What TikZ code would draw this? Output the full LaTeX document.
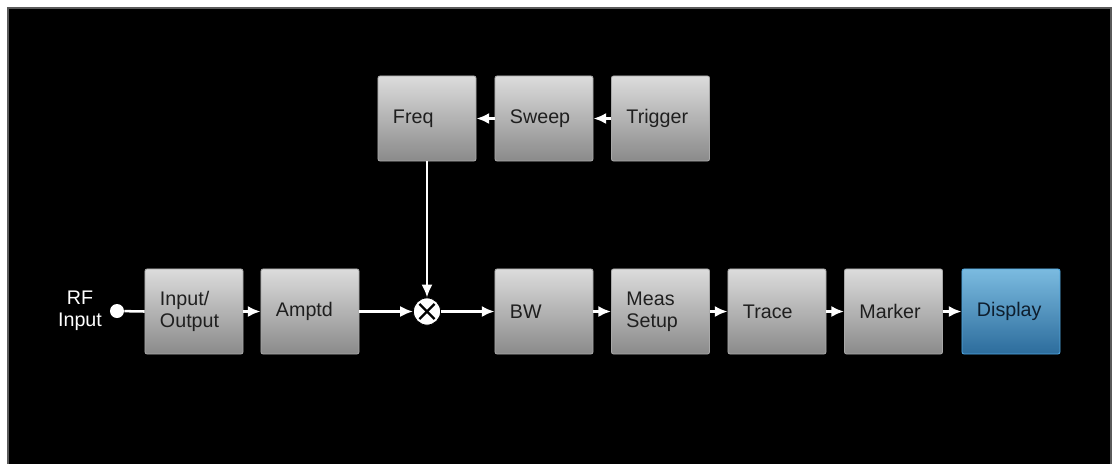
\documentclass[tikz,border=0pt]{standalone}
\usepackage{fontspec}
\setmainfont{Liberation Sans}
\usepackage{tikz}
\usetikzlibrary{calc}
\usetikzlibrary{arrows.meta}
\tikzset{>={Latex[length=3.2mm,width=2.8mm]}}
\usepackage{xcolor}
\definecolor{boxtop}{HTML}{DCDCDC}
\definecolor{boxbottom}{HTML}{8A8A8A}
\definecolor{boxline}{HTML}{A8A8A8}
\definecolor{disptop}{HTML}{7BBBE0}
\definecolor{dispbottom}{HTML}{2C6C9C}
\definecolor{displine}{HTML}{4FA8E2}
\definecolor{frameline}{HTML}{5A5A5A}
\tikzstyle{block}=[rounded corners=1.5pt,draw=boxline,line width=0.6pt,top color=boxtop,bottom color=boxbottom,minimum width=2.45cm,minimum height=2.125cm,text width=1.7cm,inner xsep=0.375cm,inner ysep=0pt,align=left,text=black!88,font=\fontsize{14}{15.6}\selectfont]
\tikzstyle{dispblock}=[block,draw=displine,top color=disptop,bottom color=dispbottom,text={rgb,255:red,14;green,30;blue,46}]
\tikzstyle{link}=[white,line width=1.8pt,->]

\begin{document}
\begin{tikzpicture}[x=0.025cm,y=-0.025cm]
\useasboundingbox (0,0) rectangle (1114,463);
\fill[white] (0,0) rectangle (1114,463);
\filldraw[fill=black,draw=frameline,line width=1.2pt] (8,8) rectangle (1111,480);

% ylarivi
\node[block] (freq) at (427,118.5) {Freq};
\node[block] (sweep) at (544,118.5) {Sweep};
\node[block] (trigger) at (660.5,118.5) {Trigger};

% alarivi
\node[white,align=center,font=\fontsize{14}{15.6}\selectfont] (rflabel) at (80,311) {RF\\Input};
\node[circle,fill=white,minimum size=0.35cm,inner sep=0] (rfin) at (117,311) {};
\node[block] (io) at (194,311.5) {Input/\\Output};
\node[block] (amptd) at (310,311.5) {Amptd};
\node[circle,fill=white,draw=black,line width=0.6pt,minimum size=0.68cm,inner sep=0] (mix) at (427,311.5) {};
\draw[black,line width=1.6pt] ($(mix.45)!0.12!(mix.225)$) -- ($(mix.225)!0.12!(mix.45)$);
\draw[black,line width=1.6pt] ($(mix.135)!0.12!(mix.315)$) -- ($(mix.315)!0.12!(mix.135)$);
\node[block] (bw) at (544,311.5) {BW};
\node[block] (meas) at (660.5,311.5) {Meas\\Setup};
\node[block] (trace) at (777,311.5) {Trace};
\node[block] (marker) at (893.5,311.5) {Marker};
\node[dispblock] (display) at (1011,311.5) {Display};

\draw[white,line width=1.8pt] (rfin) -- (io.west);
\draw[link] (io) -- (amptd);
\draw[link] (amptd) -- (mix);
\draw[link] (freq) -- (mix);
\draw[link] (mix) -- (bw);
\draw[link] (bw) -- (meas);
\draw[link] (meas) -- (trace);
\draw[link] (trace) -- (marker);
\draw[link] (marker) -- (display);
\draw[link] (trigger) -- (sweep);
\draw[link] (sweep) -- (freq);
\end{tikzpicture}
\end{document}
